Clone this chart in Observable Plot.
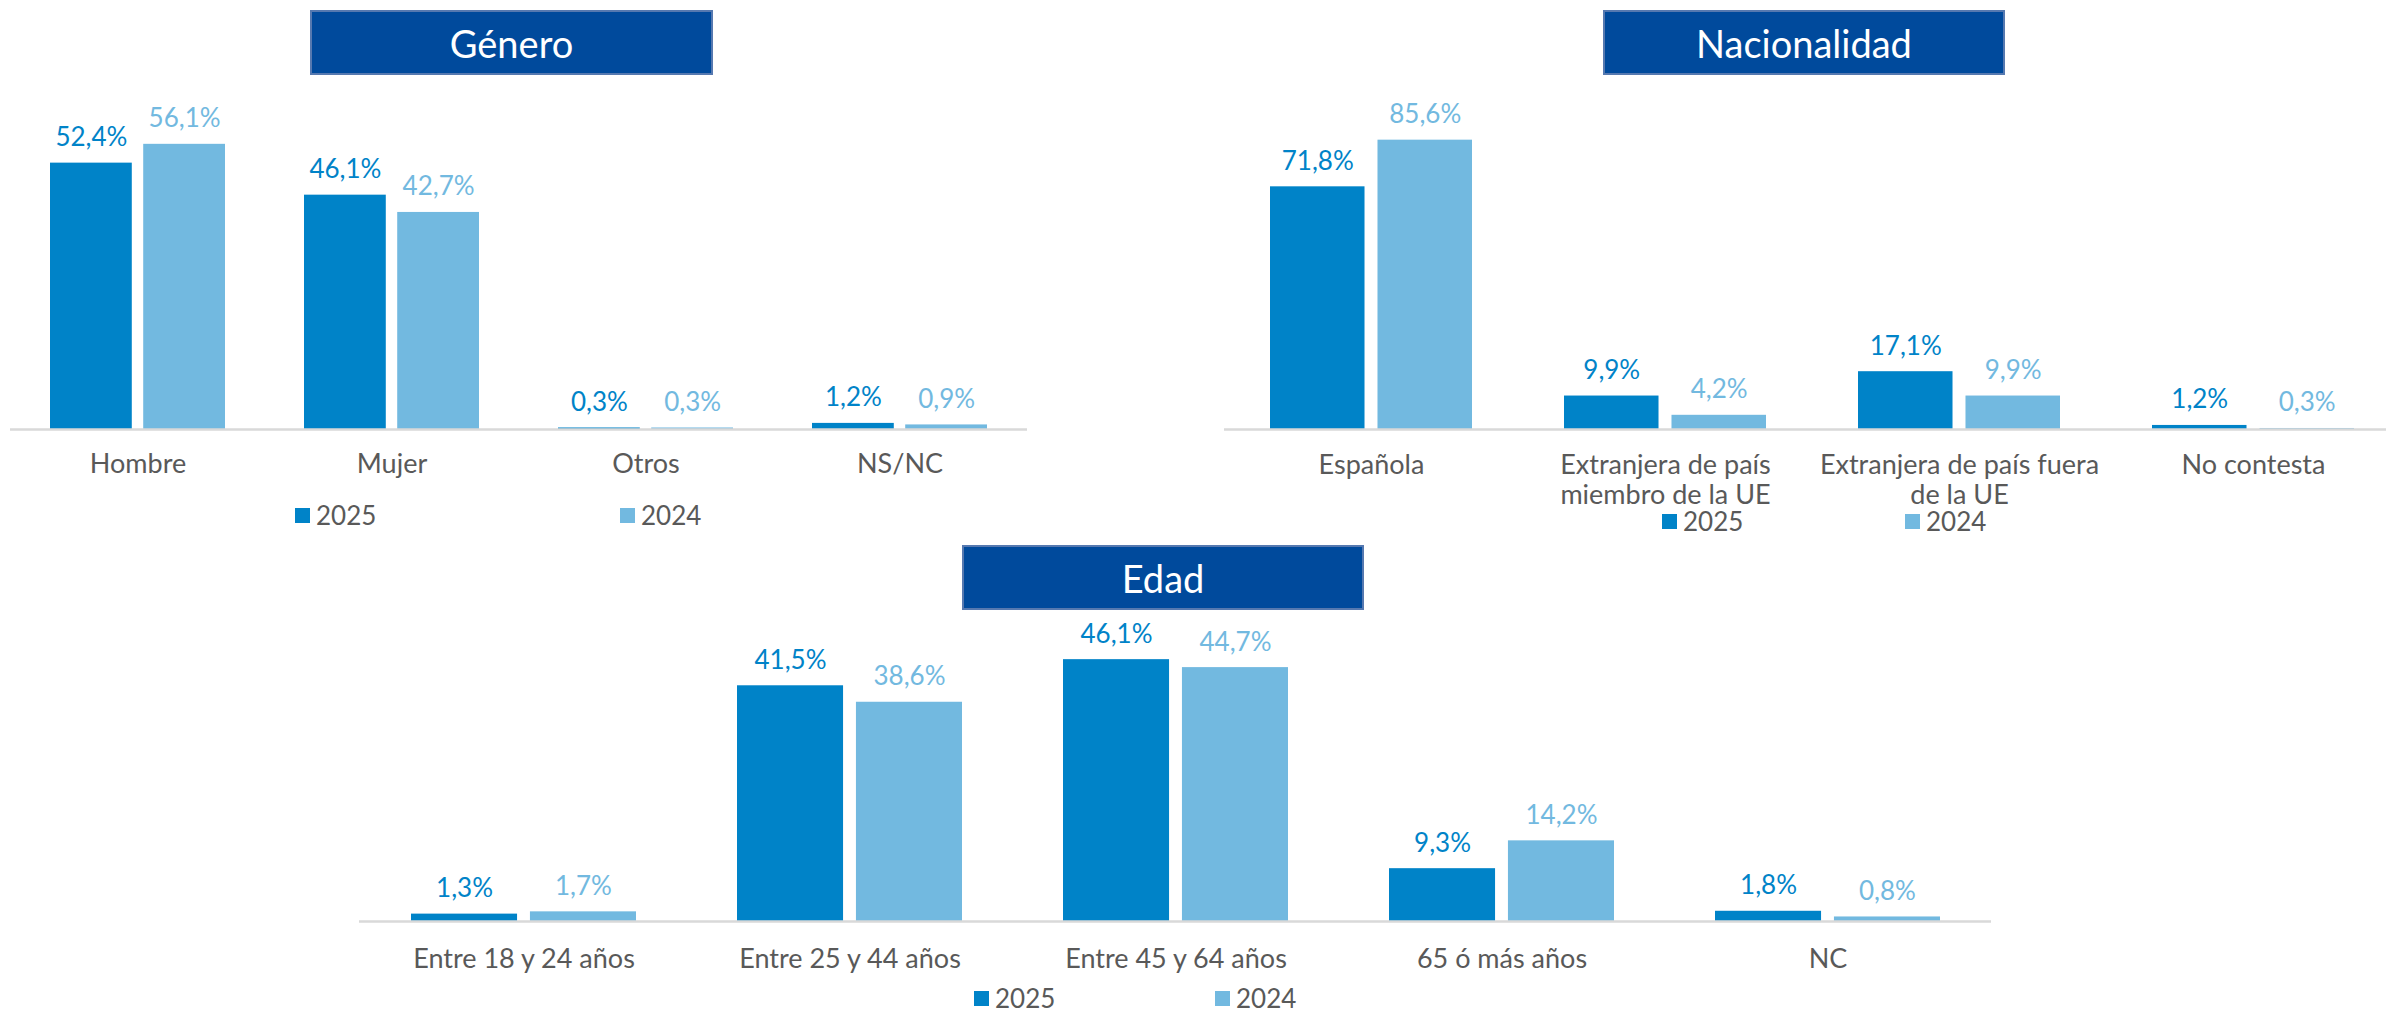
<!DOCTYPE html>
<html><head><meta charset="utf-8">
<script src="https://cdn.jsdelivr.net/npm/d3@7"></script>
<script src="https://cdn.jsdelivr.net/npm/@observablehq/plot@0.6"></script>
<style>
html,body{margin:0;padding:0;background:#fff;overflow:hidden;}
#root{position:relative;width:2386px;height:1015px;overflow:hidden;font-family:Lato,sans-serif;}
.panel{position:absolute;}
.title{position:absolute;background:#004A9C;color:#fff;font-size:38px;display:flex;align-items:center;justify-content:center;box-sizing:border-box;border:2px solid #5679B0;}
.legend{position:absolute;font-size:26px;color:#595959;display:flex;align-items:center;line-height:26px;height:26px;}
.sw{display:inline-block;width:15px;height:15px;margin-right:6px;}
</style></head><body><div id="root"></div>
<script>
// ---- data ----
const years = ["2025", "2024"];
const colors = ["#0083C8", "#72B9E0"];

const generoCats = ["Hombre", "Mujer", "Otros", "NS/NC"];
const generoLabels = ["Hombre", "Mujer", "Otros", "NS/NC"];
const genero2025 = [52.4, 46.1, 0.3, 1.2];
const genero2024 = [56.1, 42.7, 0.3, 0.9];

const nacCats = ["Española", "Extranjera UE", "Extranjera fuera UE", "No contesta"];
const nacLabels = ["Española", "Extranjera de país\nmiembro de la UE", "Extranjera de país fuera\nde la UE", "No contesta"];
const nac2025 = [71.8, 9.9, 17.1, 1.2];
const nac2024 = [85.6, 4.2, 9.9, 0.3];

const edadCats = ["Entre 18 y 24 años", "Entre 25 y 44 años", "Entre 45 y 64 años", "65 ó más años", "NC"];
const edadLabels = ["Entre 18 y 24 años", "Entre 25 y 44 años", "Entre 45 y 64 años", "65 ó más años", "NC"];
const edad2025 = [1.3, 41.5, 46.1, 9.3, 1.8];
const edad2024 = [1.7, 38.6, 44.7, 14.2, 0.8];

// ---- drawing ----
const root = document.getElementById("root");
const fmt = v => v.toFixed(1).replace(".", ",") + "%";

function chart(cfg) {
  const {cats, labels, v25, v24, left, top, width, height, mL, mR, mT, mB, yMax, gap, pi, po, tickPad} = cfg;
  const rows25 = cats.map((c, i) => ({cat: c, year: years[0], v: v25[i]}));
  const rows24 = cats.map((c, i) => ({cat: c, year: years[1], v: v24[i]}));
  const n = cats.length;
  const step = (width - mL - mR) / (n - pi + 2 * po);
  const bw = step * (1 - pi);
  const inset = (bw + gap) / 2;
  const off = (bw + gap) / 4;
  const p = Plot.plot({
    width, height,
    marginLeft: mL, marginRight: mR, marginTop: mT, marginBottom: mB,
    style: {fontFamily: "Lato, sans-serif", fontSize: "26px", color: "#595959", background: "transparent", overflow: "visible"},
    x: {domain: cats, paddingInner: pi, paddingOuter: po, axis: null},
    y: {domain: [0, yMax], axis: null},
    color: {domain: years, range: colors},
    marks: [
      Plot.barY(rows25, {x: "cat", y: "v", fill: "year", insetRight: inset}),
      Plot.barY(rows24, {x: "cat", y: "v", fill: "year", insetLeft: inset}),
      Plot.ruleY([0], {stroke: "#D9D9D9", strokeWidth: 2.5}),
      Plot.text(rows25, {x: "cat", y: "v", text: d => fmt(d.v), fill: "year", dx: -off, dy: -17, lineAnchor: "bottom", fontSize: 26}),
      Plot.text(rows24, {x: "cat", y: "v", text: d => fmt(d.v), fill: "year", dx: off, dy: -17, lineAnchor: "bottom", fontSize: 26}),
      Plot.axisX({label: null, tickSize: 0, tickPadding: tickPad, tickFormat: d => labels[cats.indexOf(d)], fontSize: 27, fill: "#595959", lineHeight: 1.11})
    ]
  });
  p.classList.add("panel");
  p.style.left = left + "px";
  p.style.top = top + "px";
  root.appendChild(p);
}

function titleBox(text, x, y, w, h) {
  const d = document.createElement("div");
  d.className = "title";
  d.textContent = text;
  Object.assign(d.style, {left: x + "px", top: y + "px", width: w + "px", height: h + "px"});
  root.appendChild(d);
}

function legendItem(year, color, x, yc) {
  const d = document.createElement("div");
  d.className = "legend";
  d.innerHTML = `<span class="sw" style="background:${color}"></span><span>${year}</span>`;
  Object.assign(d.style, {left: x + "px", top: (yc - 13) + "px"});
  root.appendChild(d);
}

// Género
chart({cats: generoCats, labels: generoLabels, v25: genero2025, v24: genero2024,
  left: 0, top: 0, width: 1040, height: 540, mL: 10, mR: 13, mT: 124, mB: 111,
  yMax: 60, gap: 11, pi: 0.31, po: 0.155, tickPad: 22});
titleBox("Género", 310, 10, 403, 65);
legendItem(years[0], colors[0], 295, 515);
legendItem(years[1], colors[1], 620, 515);

// Nacionalidad
chart({cats: nacCats, labels: nacLabels, v25: nac2025, v24: nac2024,
  left: 1200, top: 0, width: 1200, height: 540, mL: 24, mR: 0, mT: 91, mB: 111,
  yMax: 100, gap: 13, pi: 0.313, po: 0.1565, tickPad: 23});
titleBox("Nacionalidad", 1603, 10, 402, 65);
legendItem(years[0], colors[0], 1662, 521);
legendItem(years[1], colors[1], 1905, 521);

// Edad
chart({cats: edadCats, labels: edadLabels, v25: edad2025, v24: edad2024,
  left: 340, top: 540, width: 1670, height: 475, mL: 19, mR: 19, mT: 97, mB: 94,
  yMax: 50, gap: 13, pi: 0.311, po: 0.1555, tickPad: 25});
titleBox("Edad", 962, 545, 402, 65);
legendItem(years[0], colors[0], 974, 998);
legendItem(years[1], colors[1], 1215, 998);
</script></body></html>
